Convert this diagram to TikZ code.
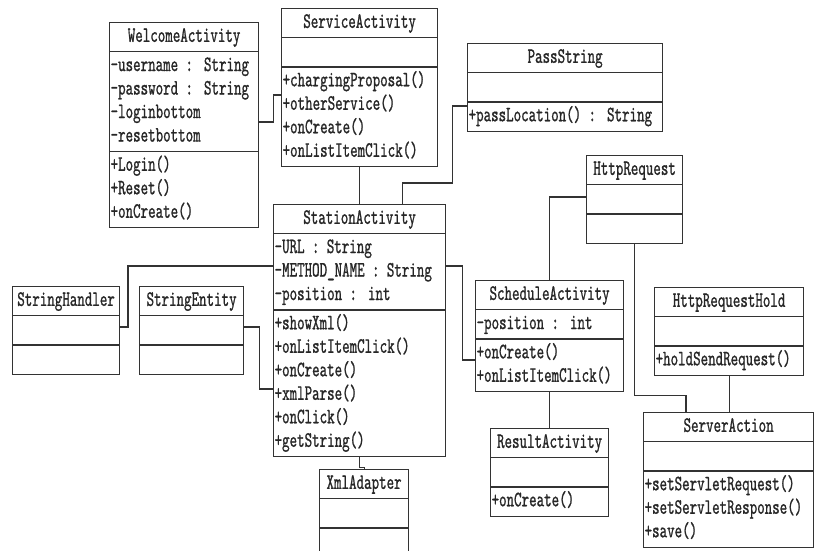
\documentclass[tikz,border=0pt]{standalone}
\usepackage{fontspec}
\newfontfamily\umlfont{lmmono10-regular.otf}[FakeStretch=0.65,FakeBold=0.9]
\usepackage{tikz}
\usetikzlibrary{shapes.multipart,calc}
\newcommand{\titel}[1]{\hbox to\hsize{\hss\strut#1\hss}}

\begin{document}
\begin{tikzpicture}[x=1pt,y=1pt,
  klasse/.style={rectangle split, rectangle split parts=3, draw=black!80,
    line width=1.2pt, anchor=north west, align=left, inner xsep=1pt,
    inner ysep=2.25pt, text=black!85,
    font=\umlfont\fontsize{22}{23.5}\selectfont},
  link/.style={draw=black!80, line width=1.2pt}]
\useasboundingbox (0,0) rectangle (817,551);

% classes
\node[klasse, text width=147pt] (welcome) at (109,529)
  {\titel{WelcomeActivity}
   \nodepart{second}\strut-username : String\\-password : String\\-loginbottom\\-resetbottom\strut
   \nodepart{third}\strut+Login()\\+Reset()\\+onCreate()\strut};
\node[klasse, text width=154pt] (service) at (281,543)
  {\titel{ServiceActivity}
   \nodepart{second}\strut
   \nodepart{third}\strut+chargingProposal()\\+otherService()\\+onCreate()\\+onListItemClick()\strut};
\node[klasse, text width=193pt] (pass) at (467,508)
  {\titel{PassString}
   \nodepart{second}\strut
   \nodepart{third}\strut+passLocation() : String\strut};
\node[klasse, text width=170pt] (station) at (273,347)
  {\titel{StationActivity}
   \nodepart{second}\strut-URL : String\\-METHOD\_NAME : String\\-position : int\strut
   \nodepart{third}\strut+showXml()\\+onListItemClick()\\+onCreate()\\+xmlParse()\\+onClick()\\+getString()\strut};
\node[klasse, text width=105pt] (handler) at (12,265)
  {\titel{StringHandler}
   \nodepart{second}\strut
   \nodepart{third}\strut};
\node[klasse, text width=102pt] (entity) at (139,265)
  {\titel{StringEntity}
   \nodepart{second}\strut
   \nodepart{third}\strut};
\node[klasse, text width=146pt] (schedule) at (475,271)
  {\titel{ScheduleActivity}
   \nodepart{second}\strut-position : int\strut
   \nodepart{third}\strut+onCreate()\\+onListItemClick()\strut};
\node[klasse, text width=94pt] (httpreq) at (586,396)
  {\titel{HttpRequest}
   \nodepart{second}\strut
   \nodepart{third}\strut};
\node[klasse, text width=147pt] (hold) at (654,264)
  {\titel{HttpRequestHold}
   \nodepart{second}\strut
   \nodepart{third}\strut+holdSendRequest()\strut};
\node[klasse, text width=168pt] (server) at (643,139)
  {\titel{ServerAction}
   \nodepart{second}\strut
   \nodepart{third}\strut+setServletRequest()\\+setServletResponse()\\+save()\strut};
\node[klasse, text width=116pt] (result) at (490,123)
  {\titel{ResultActivity}
   \nodepart{second}\strut
   \nodepart{third}\strut+onCreate()\strut};
\node[klasse, text width=87pt] (xml) at (319,82)
  {\titel{XmlAdapter}
   \nodepart{second}\strut
   \nodepart{third}\strut};

% links
\draw[link] ([yshift=-100pt]welcome.north east) -- ++(14,0) |- ([yshift=-87pt]service.north west);
\draw[link] (service.south) -- (station.north);
\draw[link] ([xshift=43pt]station.north) -- ++(0,21) -- ++(50,0) |- ([yshift=-63pt]pass.north west);
\draw[link] ([yshift=-62pt]station.north west) -- ++(-145,0) |- ([yshift=-41pt]handler.north east);
\draw[link] ([yshift=-41pt]entity.north east) -- ++(15,0) |- ([yshift=-185pt]station.north west);
\draw[link] ([yshift=-62pt]station.north east) -- ++(16,0) |- ([yshift=-80pt]schedule.north west);
\draw[link] (schedule.north) |- ([yshift=-42pt]httpreq.north west);
\draw[link] (httpreq.south) -- ++(0,-152) -| ([xshift=43pt]server.north west);
\draw[link] (hold.south) -- (hold.south |- server.north);
\draw[link] (schedule.south) -- (result.north);
\draw[link] (station.south) -- ++(0,-10) -| (xml.north);
\end{tikzpicture}
\end{document}
